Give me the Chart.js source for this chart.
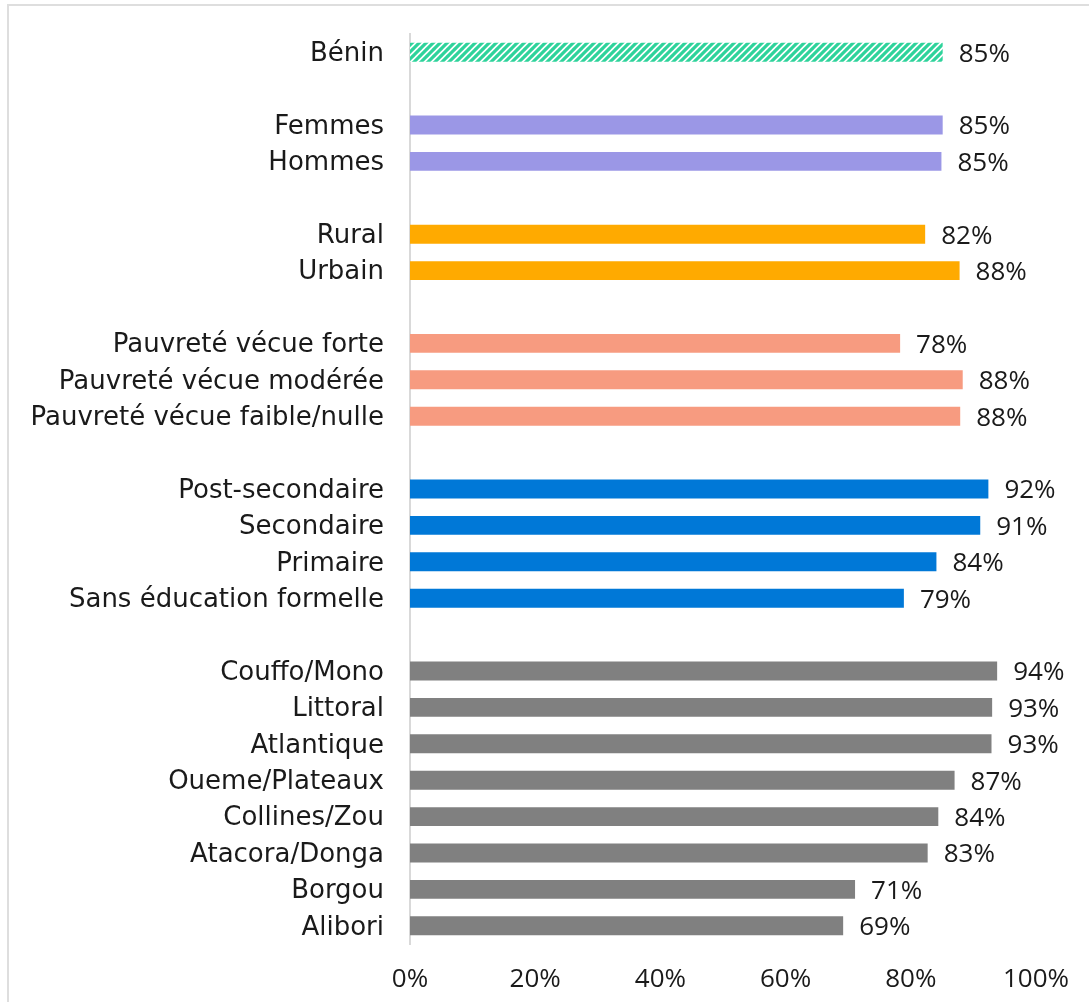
<!DOCTYPE html>
<html>
<head>
<meta charset="utf-8">
<script src="https://cdn.jsdelivr.net/npm/chart.js@4/dist/chart.umd.min.js"></script>
<style>
  html, body { margin: 0; padding: 0; background: #fff; overflow: hidden; }
  #wrap { position: relative; width: 1089px; height: 1002px; }
  #frame { position: absolute; left: 7px; top: 4px; width: 1200px; height: 1200px;
           border-left: 2px solid #dedede; border-top: 2px solid #dedede; pointer-events: none; }
  canvas { position: absolute; left: 0; top: 0; }
</style>
</head>
<body>
<div id="wrap">
  <canvas id="c" width="1089" height="1002"></canvas>
  <div id="frame"></div>
</div>
<script>
// ---- data ----
const categories = [
  "Bénin", "",
  "Femmes", "Hommes", "",
  "Rural", "Urbain", "",
  "Pauvreté vécue forte", "Pauvreté vécue modérée", "Pauvreté vécue faible/nulle", "",
  "Post-secondaire", "Secondaire", "Primaire", "Sans éducation formelle", "",
  "Couffo/Mono", "Littoral", "Atlantique", "Oueme/Plateaux", "Collines/Zou", "Atacora/Donga", "Borgou", "Alibori"
];
const values = [
  85.1, null,
  85.1, 84.9, null,
  82.3, 87.8, null,
  78.3, 88.3, 87.9, null,
  92.4, 91.1, 84.1, 78.9, null,
  93.8, 93.0, 92.9, 87.0, 84.4, 82.7, 71.1, 69.2
];
const groups = [
  0, -1,
  1, 1, -1,
  2, 2, -1,
  3, 3, 3, -1,
  4, 4, 4, 4, -1,
  5, 5, 5, 5, 5, 5, 5, 5
];
const groupColors = ["hatch", "#9B97E6", "#FFAA00", "#F79B80", "#0078D7", "#808080"];
const xTicks = [0, 20, 40, 60, 80, 100];

// ---- hatch pattern ----
function makeHatch(color) {
  const p = document.createElement('canvas');
  p.width = 7; p.height = 7;
  const g = p.getContext('2d');
  g.fillStyle = '#ffffff';
  g.fillRect(0, 0, 7, 7);
  g.strokeStyle = color;
  g.lineWidth = 3.2;
  g.beginPath();
  for (let k = -1; k <= 1; k++) {
    g.moveTo(k * 7 - 1, 8);
    g.lineTo(k * 7 + 8, -1);
  }
  g.stroke();
  return document.getElementById('c').getContext('2d').createPattern(p, 'repeat');
}
const hatch = makeHatch('#2ED39B');
const barColors = groups.map(gi => gi < 0 ? 'rgba(0,0,0,0)' : (groupColors[gi] === 'hatch' ? hatch : groupColors[gi]));

const LABEL_FONT = "'DejaVu Sans', sans-serif";
const NUM_FONT = "'Open Sans', 'DejaVu Sans', sans-serif";
const FSIZE = 26;
const TXT = '#1a1a1a';

const valueLabels = {
  id: 'valueLabels',
  afterDatasetsDraw(chart) {
    const ctx = chart.ctx;
    const meta = chart.getDatasetMeta(0);
    ctx.save();
    ctx.font = FSIZE + 'px ' + NUM_FONT;
    ctx.fillStyle = TXT;
    ctx.textAlign = 'left';
    ctx.textBaseline = 'middle';
    meta.data.forEach((el, i) => {
      const v = values[i];
      if (v === null || v === undefined) return;
      ctx.fillText(Math.round(v) + '%', el.x + 16, el.y + 2);
    });
    ctx.restore();
  }
};

new Chart(document.getElementById('c'), {
  type: 'bar',
  data: {
    labels: categories,
    datasets: [{
      data: values,
      backgroundColor: barColors,
      borderWidth: 0,
      barPercentage: 0.52,
      categoryPercentage: 1.0
    }]
  },
  options: {
    indexAxis: 'y',
    responsive: false,
    animation: false,
    devicePixelRatio: 1,
    layout: { padding: { left: 0, right: 49, top: 34, bottom: 0 } },
    plugins: { legend: { display: false }, tooltip: { enabled: false } },
    scales: {
      x: {
        min: 0, max: 100,
        afterBuildTicks(scale) { scale.ticks = xTicks.map(v => ({ value: v })); },
        afterFit(scale) { scale.height = 58; },
        grid: { display: false, drawTicks: false },
        border: { display: false },
        ticks: {
          padding: 20,
          color: TXT,
          font: { family: NUM_FONT, size: FSIZE },
          callback: v => v + '%',
          maxRotation: 0
        }
      },
      y: {
        afterFit(scale) {
          scale.width = 410;
          scale.paddingTop = 0;
          scale.paddingBottom = 0;
        },
        grid: { display: false, drawTicks: false },
        border: { display: true, color: '#d9d9d9', width: 2 },
        ticks: {
          padding: 26,
          labelOffset: 2,
          color: TXT,
          font: { family: LABEL_FONT, size: FSIZE },
          autoSkip: false
        }
      }
    }
  },
  plugins: [valueLabels]
});
</script>
</body>
</html>
